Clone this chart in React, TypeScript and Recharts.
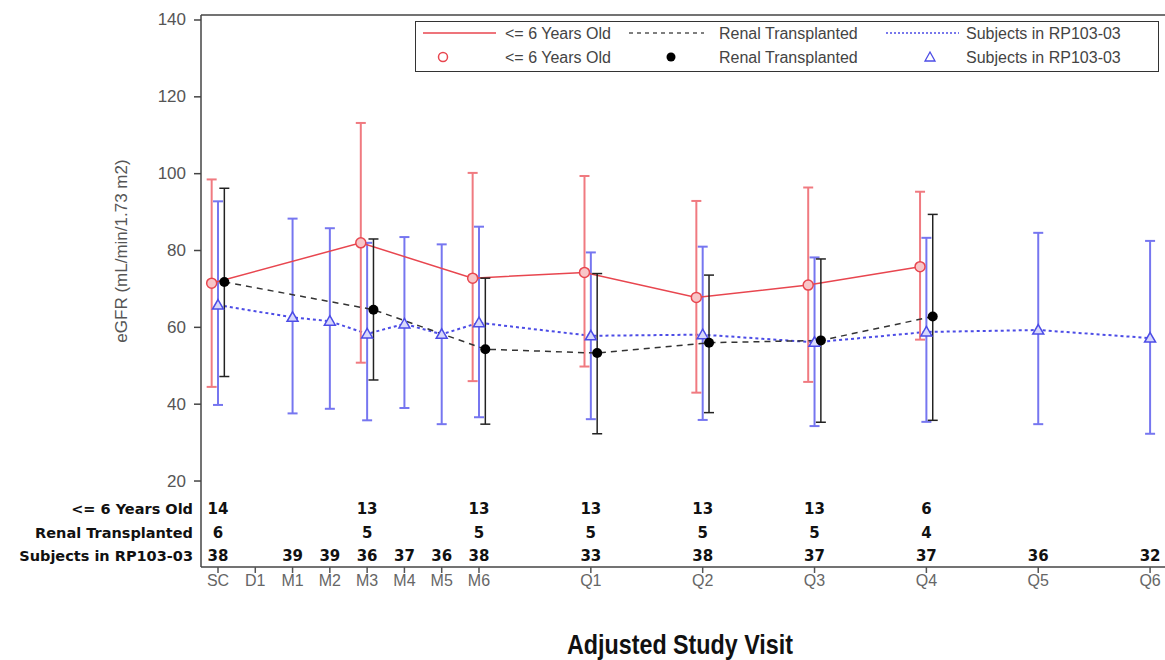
import {
  ComposedChart,
  ErrorBar,
  Line,
  ReferenceLine,
  Scatter,
  XAxis,
  YAxis,
} from "recharts";

// Adjusted study visits and their place on the (uneven) visit axis
const VISITS = ["SC", "D1", "M1", "M2", "M3", "M4", "M5", "M6", "Q1", "Q2", "Q3", "Q4", "Q5", "Q6"];
const VISIT_POS = [0, 1, 2, 3, 4, 5, 6, 7, 10, 13, 16, 19, 22, 25];

// <= 6 Years Old
const YOUNG_VISITS = ["SC", "M3", "M6", "Q1", "Q2", "Q3", "Q4"];
const YOUNG_MEAN = [71.5, 82, 72.8, 74.3, 67.8, 71, 75.8];
const YOUNG_LOW = [44.5, 50.8, 46, 49.8, 43, 45.8, 56.8];
const YOUNG_HIGH = [98.5, 113.2, 100.2, 99.4, 92.9, 96.4, 95.3];
const YOUNG_N = [14, 13, 13, 13, 13, 13, 6];

// Renal Transplanted
const RENAL_VISITS = ["SC", "M3", "M6", "Q1", "Q2", "Q3", "Q4"];
const RENAL_MEAN = [71.8, 64.6, 54.3, 53.3, 56, 56.6, 62.8];
const RENAL_LOW = [47.2, 46.3, 34.8, 32.3, 37.8, 35.3, 35.8];
const RENAL_HIGH = [96.2, 83, 72.8, 74, 73.6, 77.8, 89.4];
const RENAL_N = [6, 5, 5, 5, 5, 5, 4];

// Subjects in RP103-03
const RP_VISITS = ["SC", "M1", "M2", "M3", "M4", "M5", "M6", "Q1", "Q2", "Q3", "Q4", "Q5", "Q6"];
const RP_MEAN = [65.8, 62.6, 61.6, 58.3, 60.9, 58.2, 61.2, 57.8, 58.1, 56.1, 58.8, 59.3, 57.2];
const RP_LOW = [39.8, 37.6, 38.8, 35.8, 39, 34.8, 36.6, 36.1, 35.9, 34.3, 35.4, 34.8, 32.3];
const RP_HIGH = [92.8, 88.3, 85.8, 82, 83.5, 81.6, 86.2, 79.5, 81, 78.2, 83.3, 84.6, 82.5];
const RP_N = [38, 39, 39, 36, 37, 36, 38, 33, 38, 37, 37, 36, 32];

const Y_TICKS = [20, 40, 60, 80, 100, 120, 140];
const ROW_LABELS = ["<= 6 Years Old", "Renal Transplanted", "Subjects in RP103-03"];
const ROW_Y = [12.7, 6.5, 0.5];

const X_DOMAIN: [number, number] = [-0.456, 25.4];
const Y_DOMAIN: [number, number] = [-2.38, 141.3];
const OFFSET = 0.17;

const RED = "#e8464f";
const RED_BAR = "#f07a80";
const BLUE = "#4c4ce6";
const BLUE_BAR = "#7676f0";
const BLACK = "#222";

const TABLE_FONT = "'DejaVu Sans', Verdana, sans-serif";
const AXIS_FONT = "'Liberation Sans', Arial, sans-serif";

function posOf(visit: string) {
  return VISIT_POS[VISITS.indexOf(visit)];
}

function series(visits: string[], mean: number[], low: number[], high: number[], shift: number) {
  return visits.map((v, i) => ({
    x: posOf(v) + shift,
    mean: mean[i],
    err: [mean[i] - low[i], high[i] - mean[i]],
  }));
}

function counts(visits: string[], n: number[], row: number) {
  return visits.map((v, i) => ({ x: posOf(v), y: ROW_Y[row], n: n[i] }));
}

const young = series(YOUNG_VISITS, YOUNG_MEAN, YOUNG_LOW, YOUNG_HIGH, -OFFSET);
const renal = series(RENAL_VISITS, RENAL_MEAN, RENAL_LOW, RENAL_HIGH, OFFSET);
const rp = series(RP_VISITS, RP_MEAN, RP_LOW, RP_HIGH, 0);

const youngN = counts(YOUNG_VISITS, YOUNG_N, 0);
const renalN = counts(RENAL_VISITS, RENAL_N, 1);
const rpN = counts(RP_VISITS, RP_N, 2);

function RedDot(p: any) {
  if (p.cx == null) return null;
  return <circle key={`r${p.index}`} cx={p.cx} cy={p.cy} r={5} fill="#f8c6c8" stroke={RED} strokeWidth={1.5} />;
}

function BlackDot(p: any) {
  if (p.cx == null) return null;
  return <circle key={`k${p.index}`} cx={p.cx} cy={p.cy} r={5} fill="#000" />;
}

function BlueTri(p: any) {
  if (p.cx == null) return null;
  const { cx, cy } = p;
  return (
    <path
      key={`b${p.index}`}
      d={`M${cx},${cy - 5.5} L${cx + 5.5},${cy + 4} L${cx - 5.5},${cy + 4} Z`}
      fill="#d8d8fb"
      stroke={BLUE}
      strokeWidth={1.5}
    />
  );
}

function CountText(p: any) {
  return (
    <text
      x={p.cx}
      y={p.cy}
      textAnchor="middle"
      dominantBaseline="central"
      fontFamily={TABLE_FONT}
      fontWeight="bold"
      fontSize={15}
      fill="#111"
    >
      {p.payload.n}
    </text>
  );
}

function YTick({ x, y, payload }: any) {
  const row = ROW_Y.indexOf(payload.value);
  if (row >= 0) {
    return (
      <text
        x={x + 7}
        y={y}
        textAnchor="end"
        dominantBaseline="central"
        fontFamily={TABLE_FONT}
        fontWeight="bold"
        fontSize={14.5}
        fill="#111"
      >
        {ROW_LABELS[row]}
      </text>
    );
  }
  return (
    <g>
      <line x1={x + 8} x2={x + 15} y1={y} y2={y} stroke="#444" strokeWidth={1.5} />
      <text x={x} y={y} textAnchor="end" dominantBaseline="central" fontFamily={AXIS_FONT} fontSize={17} fill="#555">
        {payload.value}
      </text>
    </g>
  );
}

function XTick({ x, y, payload }: any) {
  return (
    <text x={x} y={y} dy="0.71em" textAnchor="middle" fontFamily={AXIS_FONT} fontSize={16} fill="#666">
      {VISITS[VISIT_POS.indexOf(payload.value)]}
    </text>
  );
}

function YLabel({ viewBox }: any) {
  const cx = viewBox.x + 121;
  const cy = viewBox.y + 236;
  return (
    <text
      x={cx}
      y={cy}
      transform={`rotate(-90 ${cx} ${cy})`}
      textAnchor="middle"
      dominantBaseline="central"
      fontFamily={AXIS_FONT}
      fontSize={17}
      fill="#555"
    >
      eGFR (mL/min/1.73 m2)
    </text>
  );
}

function XLabel({ viewBox }: any) {
  return (
    <text
      x={viewBox.x + viewBox.width / 2 - 3}
      y={viewBox.y + 87}
      textAnchor="middle"
      fontFamily="'Liberation Sans Narrow', 'Liberation Sans', Arial, sans-serif"
      fontWeight="bold"
      fontSize={28}
      textLength={226}
      lengthAdjust="spacingAndGlyphs"
      fill="#111"
    >
      Adjusted Study Visit
    </text>
  );
}

function LegendBox() {
  const t = { fontFamily: AXIS_FONT, fontSize: 16, fill: "#444" };
  const r1 = 11;
  const r2 = 35;
  return (
    <div style={{ position: "absolute", left: 415, top: 21, width: 742, height: 49, border: "1.5px solid #333", background: "#fff" }}>
      <svg width={742} height={49} style={{ display: "block" }}>
        <line x1={7} x2={80} y1={r1} y2={r1} stroke={RED} strokeWidth={1.5} />
        <text x={89} y={r1} dominantBaseline="central" {...t}>{"<= 6 Years Old"}</text>
        <circle cx={27} cy={r2} r={4.5} fill="#fff" stroke={RED} strokeWidth={1.5} />
        <text x={89} y={r2} dominantBaseline="central" {...t}>{"<= 6 Years Old"}</text>

        <line x1={213} x2={288} y1={r1} y2={r1} stroke="#555" strokeWidth={1.5} strokeDasharray="4 4" />
        <text x={303} y={r1} dominantBaseline="central" {...t}>Renal Transplanted</text>
        <circle cx={255} cy={r2} r={4.5} fill="#000" />
        <text x={303} y={r2} dominantBaseline="central" {...t}>Renal Transplanted</text>

        <line x1={470} x2={543} y1={r1} y2={r1} stroke={BLUE} strokeWidth={1.5} strokeDasharray="2 2" />
        <text x={550} y={r1} dominantBaseline="central" {...t}>Subjects in RP103-03</text>
        <path d={`M514,${r2 - 5} L519,${r2 + 4} L509,${r2 + 4} Z`} fill="#fff" stroke={BLUE} strokeWidth={1.3} />
        <text x={550} y={r2} dominantBaseline="central" {...t}>Subjects in RP103-03</text>
      </svg>
    </div>
  );
}

export default function App() {
  return (
    <div style={{ position: "absolute", left: 0, top: 0, width: 1165, height: 660, background: "#fff" }}>
      <ComposedChart width={1165} height={660} margin={{ top: 15, right: 0, bottom: 0, left: 0 }}>
        <XAxis
          type="number"
          dataKey="x"
          domain={X_DOMAIN}
          allowDataOverflow
          ticks={VISIT_POS}
          interval={0}
          tick={<XTick />}
          tickSize={6}
          tickMargin={2}
          height={93}
          stroke="#444"
          strokeWidth={1.5}
          tickLine={{ stroke: "#555" }}
          label={<XLabel />}
        />
        <YAxis
          type="number"
          domain={Y_DOMAIN}
          allowDataOverflow
          ticks={[...ROW_Y, ...Y_TICKS]}
          interval={0}
          tick={<YTick />}
          tickLine={false}
          tickSize={7}
          tickMargin={8}
          width={201}
          stroke="#444"
          strokeWidth={1.5}
          label={<YLabel />}
        />
        <ReferenceLine y={Y_DOMAIN[1]} stroke="#444" strokeWidth={1.5} />

        <Line
          data={rp}
          dataKey="mean"
          stroke={BLUE}
          strokeWidth={2}
          strokeDasharray="3 3"
          dot={BlueTri}
          activeDot={false}
          isAnimationActive={false}
        >
          <ErrorBar dataKey="err" width={5} stroke={BLUE_BAR} strokeWidth={2} direction="y" />
        </Line>
        <Line
          data={young}
          dataKey="mean"
          stroke={RED}
          strokeWidth={1.5}
          dot={RedDot}
          activeDot={false}
          isAnimationActive={false}
        >
          <ErrorBar dataKey="err" width={5} stroke={RED_BAR} strokeWidth={2} direction="y" />
        </Line>
        <Line
          data={renal}
          dataKey="mean"
          stroke="#333"
          strokeWidth={1.5}
          strokeDasharray="6 5"
          dot={BlackDot}
          activeDot={false}
          isAnimationActive={false}
        >
          <ErrorBar dataKey="err" width={5} stroke={BLACK} strokeWidth={1.5} direction="y" />
        </Line>

        <Scatter data={youngN} dataKey="y" shape={CountText} isAnimationActive={false} />
        <Scatter data={renalN} dataKey="y" shape={CountText} isAnimationActive={false} />
        <Scatter data={rpN} dataKey="y" shape={CountText} isAnimationActive={false} />
      </ComposedChart>
      <LegendBox />
    </div>
  );
}
